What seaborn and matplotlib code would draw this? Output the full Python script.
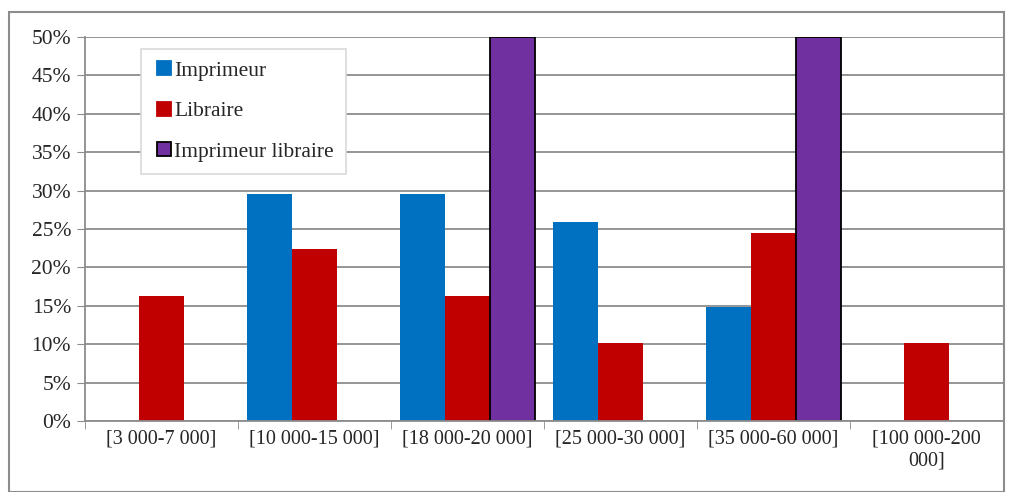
import numpy as np
import pandas as pd
import matplotlib
import matplotlib.pyplot as plt
import seaborn as sns
from matplotlib.lines import Line2D
from matplotlib.patches import Rectangle
from matplotlib.colors import to_rgba
from matplotlib.ticker import FuncFormatter, MultipleLocator
matplotlib.use("Agg")

categories = ['[3 000-7 000]', '[10 000-15 000]', '[18 000-20 000]',
              '[25 000-30 000]', '[35 000-60 000]', '[100 000-200\n000]']
series = ['Imprimeur', 'Libraire', 'Imprimeur libraire']
imprimeur = [0, 29.6, 29.6, 25.9, 14.8, 0]
libraire = [16.3, 22.4, 16.3, 10.2, 24.5, 10.2]
imprimeur_libraire = [0, 0, 50, 0, 50, 0]
colors = {'Imprimeur': '#0070C0', 'Libraire': '#C00000',
          'Imprimeur libraire': '#7030A0'}

# long format, drop empty bars so nothing is drawn at 0
rows = []
for name, vals in zip(series, [imprimeur, libraire, imprimeur_libraire]):
    for cat, v in zip(categories, vals):
        if v > 0:
            rows.append({'cat': cat, 'serie': name, 'val': v})
df = pd.DataFrame(rows)

sns.set_style("white")
plt.rcParams['font.family'] = ['Liberation Serif', 'DejaVu Serif']

fig = plt.figure(figsize=(10.09, 4.92), dpi=100)
ax = fig.add_axes([0.0842, 0.1443, 0.9098, 0.7805])

sns.barplot(data=df, x='cat', y='val', hue='serie', order=categories,
            hue_order=series, palette=colors, width=0.88, saturation=1,
            ax=ax, legend=False)

# black outline on the purple bars only
purple = to_rgba(colors['Imprimeur libraire'])
for b in ax.patches:
    if np.allclose(b.get_facecolor(), purple):
        b.set_edgecolor('black')
        b.set_linewidth(1.3)
    else:
        b.set_linewidth(0)

ax.set_xlim(-0.5, 5.5)
ax.set_ylim(0, 50)
ax.yaxis.set_major_locator(MultipleLocator(5))
ax.yaxis.set_major_formatter(FuncFormatter(lambda v, p: '%d%%' % v))
ax.grid(axis='y', color='#8c8c8c', linewidth=1.3)
ax.set_axisbelow(True)
ax.set_xlabel('')
ax.set_ylabel('')

ax.set_xticks(np.arange(-0.5, 6, 1), minor=True)
ax.tick_params(axis='x', which='major', length=0, labelsize=14.5, pad=6)
ax.tick_params(axis='x', which='minor', length=6, color='#8c8c8c',
               direction='out', bottom=True)
ax.tick_params(axis='y', length=6, color='#8c8c8c', direction='out',
               left=True, labelsize=15.5, pad=4)

for s in ['top', 'right']:
    ax.spines[s].set_visible(False)
for s in ['left', 'bottom']:
    ax.spines[s].set_color('#8c8c8c')
    ax.spines[s].set_linewidth(1.3)

handles = [Line2D([], [], marker='s', linestyle='', markersize=10,
                  markerfacecolor=colors[n],
                  markeredgecolor='black' if n == 'Imprimeur libraire' else colors[n],
                  markeredgewidth=1.3) for n in series]
leg = ax.legend(handles, series, loc='upper left',
                bbox_to_anchor=(0.061, 0.969), borderaxespad=0,
                fontsize=15.5, labelspacing=0.95, handletextpad=0.0,
                handlelength=1.0, borderpad=0.55, fancybox=False,
                framealpha=1)
leg.get_frame().set_edgecolor('#d9d9d9')
leg.get_frame().set_linewidth(1.2)

# outer chart border
fig.patches.append(Rectangle((9 / 1009, 0.0), 995 / 1009, 480 / 492,
                             transform=fig.transFigure, fill=False,
                             edgecolor='#8c8c8c', linewidth=1.5))

plt.savefig('out.png', dpi=100)
